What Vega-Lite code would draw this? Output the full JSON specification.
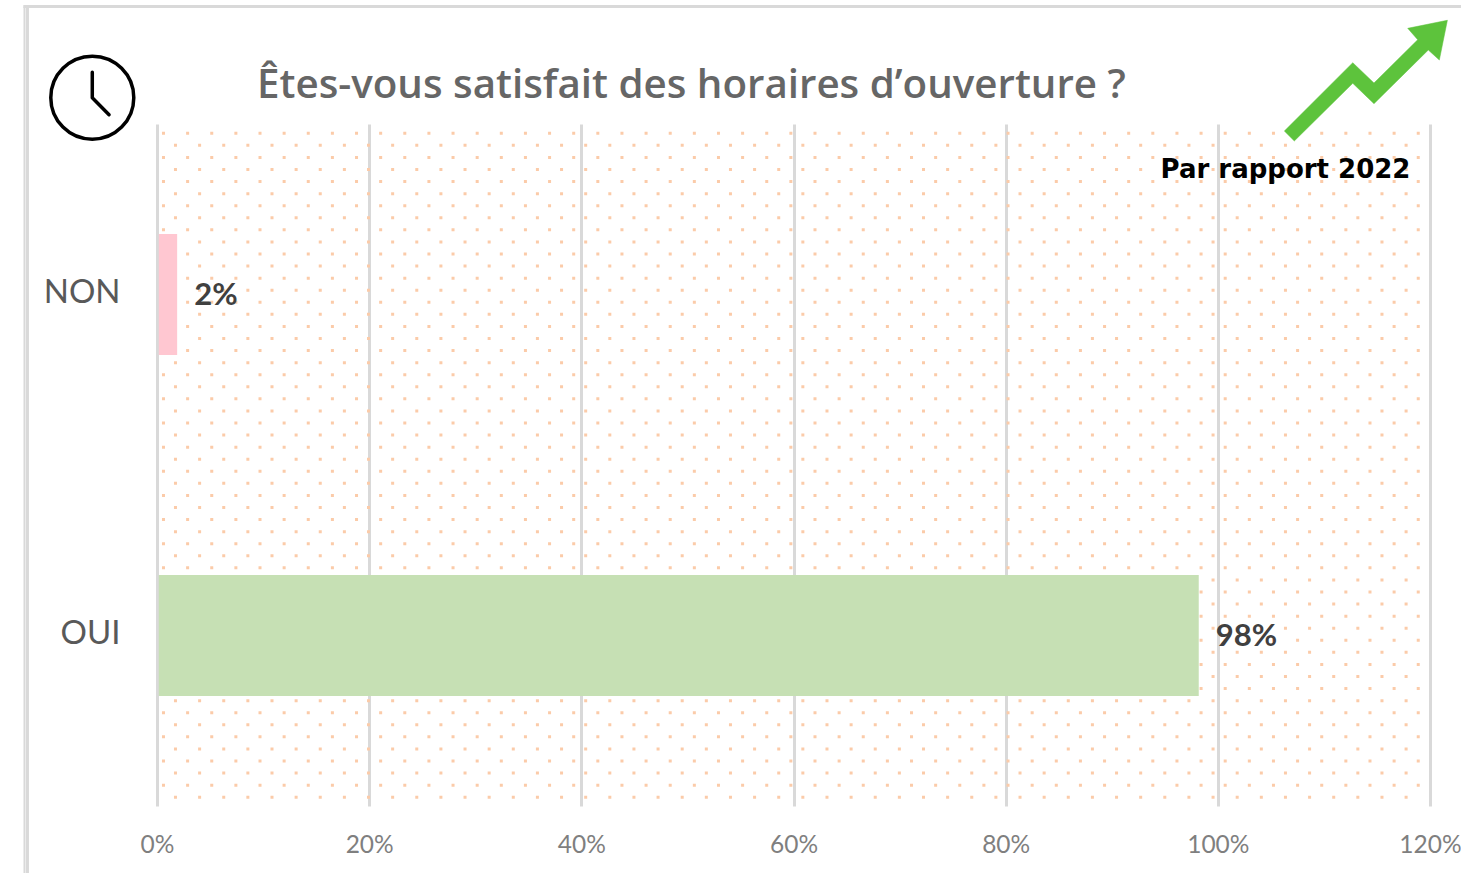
{
"$schema":"https://vega.github.io/schema/vega-lite/v6.json",
"autosize":"none",
"background":"white",
"padding":{"left":157,"top":124,"right":31,"bottom":67},
"width":1273,"height":682,
"config":{"view":{"stroke":null}},
"title":{"text":"Êtes-vous satisfait des horaires d’ouverture ?","anchor":"start","frame":"group","dx":100,"offset":-101,"font":"Open Sans","fontSize":40.3,"fontWeight":600,"color":"#666666"},
"datasets":{
"answers":[{"answer":"NON","value":1.9,"label":"2%","color":"#ffc7d1"},{"answer":"OUI","value":98.2,"label":"98%","color":"#c6e0b4"}],
"dotRowsA":[{"y":1.36},{"y":4.90},{"y":8.44},{"y":11.98},{"y":15.52},{"y":19.06},{"y":22.60},{"y":26.14},{"y":29.68},{"y":33.22},{"y":36.76},{"y":40.30},{"y":43.84},{"y":47.38},{"y":50.92},{"y":54.46},{"y":58.00},{"y":61.54},{"y":65.08},{"y":68.62},{"y":72.16},{"y":75.70},{"y":79.24},{"y":82.78},{"y":86.32},{"y":89.86},{"y":93.40},{"y":96.94}],
"dotRowsB":[{"y":3.13},{"y":6.67},{"y":10.21},{"y":13.75},{"y":17.29},{"y":20.83},{"y":24.37},{"y":27.91},{"y":31.45},{"y":34.99},{"y":38.53},{"y":42.07},{"y":45.61},{"y":49.15},{"y":52.69},{"y":56.23},{"y":59.77},{"y":63.31},{"y":66.85},{"y":70.39},{"y":73.93},{"y":77.47},{"y":81.01},{"y":84.55},{"y":88.09},{"y":91.63},{"y":95.17},{"y":98.71}],
"arrow":[{"i":0,"x":106.27,"y":1.03},{"i":1,"x":107.21,"y":2.49},{"i":2,"x":112.72,"y":-5.97},{"i":3,"x":114.72,"y":-2.98},{"i":4,"x":119.84,"y":-10.85},{"i":5,"x":120.88,"y":-9.38},{"i":6,"x":121.64,"y":-15.21},{"i":7,"x":117.90,"y":-14.03},{"i":8,"x":118.84,"y":-12.36},{"i":9,"x":114.72,"y":-6.01},{"i":10,"x":112.72,"y":-8.99},{"i":11,"x":106.27,"y":1.03}],
"hands":[{"i":0,"x":-6.10,"y":-7.58},{"i":1,"x":-6.10,"y":-3.86},{"i":2,"x":-4.52,"y":-1.36}],
"frameLines":[{"x":-12.49,"x2":-12.49,"y":-17.23,"y2":109.9,"w":2},{"x":-12.21,"x2":-12.21,"y":-17.23,"y2":109.9,"w":3},{"x":-12.6,"x2":122.92,"y":-17.23,"y2":-17.23,"w":3}]
},
"resolve":{"scale":{"y":"independent"}},
"layer":[
{"data":{"name":"frameLines"},
 "mark":{"type":"rule","color":"#d9d9d9","clip":false},
 "encoding":{
  "x":{"field":"x","type":"quantitative","title":null,"scale":{"domain":[0,120],"nice":false}},
  "x2":{"field":"x2"},
  "y":{"field":"y","type":"quantitative","axis":null,"scale":{"domain":[0,100],"reverse":true,"nice":false}},
  "y2":{"field":"y2"},
  "strokeWidth":{"field":"w","type":"quantitative","scale":null}
 }},
{"data":{"name":"dotRowsA"},
 "mark":{"type":"rule","color":"#fbcba9","strokeWidth":3,"strokeDash":[3,21.13],"strokeCap":"butt"},
 "encoding":{
  "x":{"datum":0.47,"type":"quantitative","title":null},
  "x2":{"datum":119.1},
  "y":{"field":"y","type":"quantitative","axis":null,"scale":{"domain":[0,100],"reverse":true,"nice":false}}
 }},
{"data":{"name":"dotRowsB"},
 "mark":{"type":"rule","color":"#fbcba9","strokeWidth":3,"strokeDash":[3,21.13],"strokeCap":"butt"},
 "encoding":{
  "x":{"datum":1.60,"type":"quantitative","title":null},
  "x2":{"datum":117.95},
  "y":{"field":"y","type":"quantitative","axis":null,"scale":{"domain":[0,100],"reverse":true,"nice":false}}
 }},
{"data":{"name":"answers"},
 "mark":{"type":"bar"},
 "encoding":{
  "x":{"field":"value","type":"quantitative","title":null,"scale":{"domain":[0,120],"nice":false},
   "axis":{"values":[0,20,40,60,80,100,120],"labelExpr":"datum.value + '%'","grid":true,"gridColor":"#d9d9d9","gridWidth":3,"domain":false,"ticks":false,"labelPadding":27,"labelFontSize":24.5,"labelFont":"Lato","labelColor":"#7f7f7f","labelOverlap":false,"labelFlush":false,"labelBound":false}},
  "x2":{"datum":0.17},
  "y":{"field":"answer","type":"nominal","title":null,"sort":["NON","OUI"],"scale":{"domain":["NON","OUI"],"paddingInner":0.645,"paddingOuter":0.3225},
   "axis":{"domain":false,"ticks":false,"grid":false,"labelPadding":37,"labelFontSize":33,"labelFont":"Lato","labelColor":"#595959","labelOffset":-2,"labelAngle":0}},
  "color":{"field":"color","type":"nominal","scale":null}
 }},
{"data":{"name":"answers"},
 "mark":{"type":"text","align":"left","baseline":"middle","dx":17,"dy":1,"font":"Lato","fontSize":31,"fontWeight":700,"color":"#404040"},
 "encoding":{
  "x":{"field":"value","type":"quantitative","title":null},
  "y":{"field":"answer","type":"nominal","axis":null,"scale":{"domain":["NON","OUI"],"paddingInner":0.645,"paddingOuter":0.3225}},
  "text":{"field":"label"}
 }},
{"data":{"values":[{"x":-6.10,"y":-3.86}]},
 "mark":{"type":"point","shape":"circle","size":6889,"filled":false,"stroke":"#000000","strokeWidth":3.5,"opacity":1,"clip":false},
 "encoding":{
  "x":{"field":"x","type":"quantitative","title":null},
  "y":{"field":"y","type":"quantitative","axis":null,"scale":{"domain":[0,100],"reverse":true,"nice":false}}
 }},
{"data":{"name":"hands"},
 "mark":{"type":"line","stroke":"#000000","strokeWidth":3.5,"strokeCap":"round","strokeJoin":"round","clip":false},
 "encoding":{
  "x":{"field":"x","type":"quantitative","title":null},
  "y":{"field":"y","type":"quantitative","axis":null,"scale":{"domain":[0,100],"reverse":true,"nice":false}},
  "order":{"field":"i"}
 }},
{"data":{"name":"arrow"},
 "mark":{"type":"line","fill":"#5dc33c","stroke":"#5dc33c","strokeWidth":0.5,"clip":false},
 "encoding":{
  "x":{"field":"x","type":"quantitative","title":null},
  "y":{"field":"y","type":"quantitative","axis":null,"scale":{"domain":[0,100],"reverse":true,"nice":false}},
  "order":{"field":"i"}
 }},
{"data":{"values":[{"x":94.6,"y":6.8,"text":"Par rapport 2022"}]},
 "mark":{"type":"text","align":"left","baseline":"middle","font":"DejaVu Sans","fontSize":26,"fontWeight":700,"color":"#000000"},
 "encoding":{
  "x":{"field":"x","type":"quantitative","title":null},
  "y":{"field":"y","type":"quantitative","axis":null,"scale":{"domain":[0,100],"reverse":true,"nice":false}},
  "text":{"field":"text"}
 }}
]
}
